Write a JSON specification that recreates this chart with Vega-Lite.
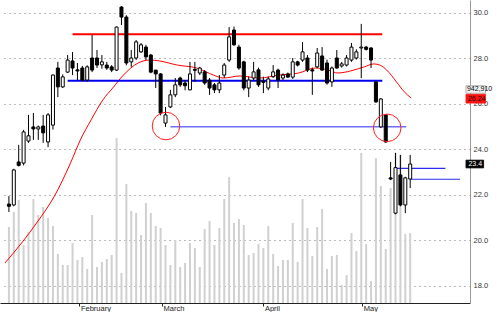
{
  "$schema": "https://vega.github.io/schema/vega-lite/v6.json",
  "width": 470,
  "height": 303,
  "autosize": {"type": "none"},
  "padding": {"left": 0, "top": 0, "right": 30, "bottom": 9},
  "background": "white",
  "config": {"view": {"stroke": null}, "font": "Liberation Sans"},
  "datasets": {
    "candles": [
      {"k":0,"o":21.6,"h":21.95,"l":21.25,"c":21.5,"vol":760000},
      {"k":1,"o":21.56,"h":23.15,"l":21.5,"c":23.1,"vol":910000},
      {"k":2,"o":23.45,"h":24.2,"l":23.25,"c":23.3,"vol":1030000},
      {"k":3,"o":23.4,"h":24.86,"l":23.3,"c":24.77,"vol":580000},
      {"k":4,"o":24.37,"h":25.52,"l":24.29,"c":24.6,"vol":710000},
      {"k":5,"o":24.99,"h":25.6,"l":24.42,"c":24.9,"vol":1040000},
      {"k":6,"o":24.9,"h":25.05,"l":24.42,"c":24.99,"vol":880000},
      {"k":7,"o":25.03,"h":25.52,"l":24.29,"c":24.73,"vol":960000},
      {"k":8,"o":24.33,"h":25.6,"l":24.1,"c":25.52,"vol":850000},
      {"k":9,"o":25.07,"h":27.3,"l":24.87,"c":27.27,"vol":770000},
      {"k":10,"o":27.58,"h":27.85,"l":26.3,"c":26.75,"vol":490000},
      {"k":11,"o":26.75,"h":27.3,"l":26.7,"c":27.19,"vol":380000},
      {"k":12,"o":27.4,"h":28.15,"l":27.36,"c":27.93,"vol":380000},
      {"k":13,"o":27.89,"h":28.28,"l":27.27,"c":27.58,"vol":600000},
      {"k":14,"o":27.5,"h":27.8,"l":27.05,"c":27.45,"vol":430000},
      {"k":15,"o":27.58,"h":27.67,"l":27.0,"c":27.05,"vol":460000},
      {"k":16,"o":27.05,"h":27.7,"l":26.98,"c":27.63,"vol":340000},
      {"k":17,"o":28.02,"h":29.03,"l":27.4,"c":27.49,"vol":880000},
      {"k":18,"o":28.02,"h":28.37,"l":27.58,"c":27.71,"vol":360000},
      {"k":19,"o":27.72,"h":28.15,"l":27.55,"c":27.85,"vol":410000},
      {"k":20,"o":27.71,"h":27.85,"l":27.5,"c":27.58,"vol":440000},
      {"k":21,"o":27.63,"h":27.71,"l":27.4,"c":27.49,"vol":480000},
      {"k":22,"o":27.49,"h":29.4,"l":27.45,"c":29.38,"vol":1650000},
      {"k":23,"o":30.26,"h":30.3,"l":29.47,"c":29.82,"vol":300000},
      {"k":24,"o":29.82,"h":29.9,"l":27.7,"c":27.8,"vol":1190000},
      {"k":25,"o":27.85,"h":28.37,"l":27.63,"c":28.02,"vol":920000},
      {"k":26,"o":28.02,"h":28.81,"l":27.93,"c":28.73,"vol":900000},
      {"k":27,"o":28.29,"h":28.68,"l":28.24,"c":28.6,"vol":680000},
      {"k":28,"o":28.5,"h":28.6,"l":27.93,"c":28.07,"vol":1000000},
      {"k":29,"o":28.15,"h":28.2,"l":27.35,"c":27.4,"vol":900000},
      {"k":30,"o":27.49,"h":27.49,"l":26.7,"c":27.32,"vol":770000},
      {"k":31,"o":27.32,"h":27.36,"l":25.5,"c":25.6,"vol":750000},
      {"k":32,"o":25.16,"h":25.87,"l":24.99,"c":25.52,"vol":580000},
      {"k":33,"o":25.87,"h":26.62,"l":25.82,"c":26.4,"vol":380000},
      {"k":34,"o":26.4,"h":27.14,"l":26.3,"c":26.84,"vol":630000},
      {"k":35,"o":27.14,"h":27.2,"l":26.75,"c":26.84,"vol":360000},
      {"k":36,"o":26.92,"h":27.05,"l":26.6,"c":26.8,"vol":400000},
      {"k":37,"o":26.62,"h":27.85,"l":26.6,"c":27.32,"vol":600000},
      {"k":38,"o":27.52,"h":27.85,"l":26.97,"c":27.48,"vol":550000},
      {"k":39,"o":27.36,"h":27.63,"l":27.27,"c":27.58,"vol":360000},
      {"k":40,"o":27.41,"h":27.49,"l":26.84,"c":26.92,"vol":740000},
      {"k":41,"o":27.05,"h":27.14,"l":26.4,"c":26.7,"vol":820000},
      {"k":42,"o":26.84,"h":26.92,"l":26.48,"c":26.62,"vol":580000},
      {"k":43,"o":26.62,"h":27.27,"l":26.48,"c":26.92,"vol":750000},
      {"k":44,"o":27.27,"h":27.8,"l":27.14,"c":27.71,"vol":1040000},
      {"k":45,"o":27.93,"h":29.38,"l":27.85,"c":28.95,"vol":1260000},
      {"k":46,"o":29.25,"h":29.4,"l":28.55,"c":28.6,"vol":800000},
      {"k":47,"o":28.5,"h":28.6,"l":27.5,"c":27.58,"vol":840000},
      {"k":48,"o":27.85,"h":27.9,"l":26.6,"c":26.7,"vol":780000},
      {"k":49,"o":26.7,"h":27.2,"l":26.3,"c":27.05,"vol":480000},
      {"k":50,"o":27.14,"h":27.85,"l":27.05,"c":27.41,"vol":500000},
      {"k":51,"o":27.5,"h":27.6,"l":26.75,"c":26.84,"vol":590000},
      {"k":52,"o":27.0,"h":27.2,"l":26.48,"c":26.95,"vol":550000},
      {"k":53,"o":26.7,"h":27.2,"l":26.6,"c":27.1,"vol":770000},
      {"k":54,"o":27.2,"h":27.71,"l":27.14,"c":27.41,"vol":490000},
      {"k":55,"o":27.49,"h":27.55,"l":26.7,"c":27.05,"vol":370000},
      {"k":56,"o":27.14,"h":27.35,"l":27.05,"c":27.27,"vol":430000},
      {"k":57,"o":27.32,"h":27.38,"l":27.15,"c":27.18,"vol":430000},
      {"k":58,"o":27.18,"h":28.02,"l":27.1,"c":27.85,"vol":800000},
      {"k":59,"o":27.85,"h":27.9,"l":27.65,"c":27.71,"vol":410000},
      {"k":60,"o":27.93,"h":28.72,"l":27.85,"c":28.29,"vol":1040000},
      {"k":61,"o":28.02,"h":28.15,"l":27.4,"c":27.49,"vol":750000},
      {"k":62,"o":27.5,"h":27.6,"l":26.4,"c":27.45,"vol":470000},
      {"k":63,"o":27.63,"h":28.46,"l":27.58,"c":28.24,"vol":760000},
      {"k":64,"o":28.11,"h":28.5,"l":27.45,"c":27.49,"vol":940000},
      {"k":65,"o":27.8,"h":27.95,"l":26.85,"c":26.92,"vol":340000},
      {"k":66,"o":26.97,"h":27.65,"l":26.75,"c":27.58,"vol":470000},
      {"k":67,"o":28.02,"h":28.37,"l":27.55,"c":27.58,"vol":480000},
      {"k":68,"o":27.67,"h":27.85,"l":27.6,"c":27.76,"vol":180000},
      {"k":69,"o":27.71,"h":28.15,"l":27.65,"c":28.02,"vol":280000},
      {"k":70,"o":27.93,"h":28.68,"l":27.85,"c":28.5,"vol":700000},
      {"k":71,"o":28.02,"h":28.4,"l":27.95,"c":28.29,"vol":520000},
      {"k":72,"o":28.46,"h":29.52,"l":27.14,"c":28.5,"vol":1500000},
      {"k":73,"o":28.5,"h":28.55,"l":28.35,"c":28.4,"vol":590000},
      {"k":74,"o":28.46,"h":28.5,"l":27.58,"c":27.93,"vol":220000},
      {"k":75,"o":26.97,"h":27.0,"l":26.05,"c":26.09,"vol":1450000},
      {"k":76,"o":24.99,"h":26.26,"l":24.95,"c":26.22,"vol":1170000},
      {"k":77,"o":25.52,"h":25.55,"l":24.29,"c":24.33,"vol":540000},
      {"k":78,"o":22.75,"h":23.45,"l":22.65,"c":22.7,"vol":1150000},
      {"k":79,"o":21.2,"h":23.85,"l":21.15,"c":23.2,"vol":1500000},
      {"k":80,"o":22.88,"h":23.76,"l":21.5,"c":21.56,"vol":1480000},
      {"k":81,"o":21.56,"h":22.8,"l":21.2,"c":22.75,"vol":690000},
      {"k":82,"o":22.7,"h":23.76,"l":22.3,"c":23.36,"vol":700000}
    ],
    "ma": [
      {"k":-0.8,"v":19.01},{"k":2.6,"v":19.89},{"k":5.8,"v":20.81},{"k":9.2,"v":21.91},
      {"k":12.6,"v":23.41},{"k":14.6,"v":24.42},{"k":16.8,"v":25.3},{"k":19.2,"v":26.18},
      {"k":21.2,"v":26.7},{"k":23.4,"v":27.27},{"k":26.4,"v":27.8},{"k":28.8,"v":27.93},
      {"k":30.8,"v":27.89},{"k":34.4,"v":27.71},{"k":38.4,"v":27.58},{"k":41.8,"v":27.27},
      {"k":43.8,"v":27.14},{"k":47.2,"v":27.23},{"k":51.2,"v":27.14},{"k":55.2,"v":27.27},
      {"k":59.2,"v":27.36},{"k":62.6,"v":27.58},{"k":65.2,"v":27.49},{"k":67.2,"v":27.36},
      {"k":69.8,"v":27.45},{"k":72.6,"v":27.63},{"k":74.6,"v":27.76},{"k":75.8,"v":27.71},
      {"k":77.2,"v":27.49},{"k":79.2,"v":26.97},{"k":80.8,"v":26.53},{"k":82.2,"v":26.26}
    ],
    "lines": [
      {"name":"res","k":13,"k2":76.3,"v":29.06},
      {"name":"sup","k":12,"k2":76.3,"v":27.02},
      {"name":"low","k":33,"k2":81.2,"v":25.0},
      {"name":"s1","k":79,"k2":89.2,"v":23.17},
      {"name":"s2","k":82.2,"k2":92.2,"v":22.69}
    ],
    "circles": [{"k":32.1,"v":25.03},{"k":77.3,"v":24.95}],
    "boxes": [
      {"name":"vol","k":93.4,"k2":97.4,"v":26.8,"v2":26.47},
      {"name":"ma","k":93.4,"k2":97.4,"v":26.42,"v2":26.04},
      {"name":"px","k":93.4,"k2":97.0,"v":23.53,"v2":23.19}
    ],
    "tags": [
      {"name":"vol","k":93.6,"v":26.64,"label":"942,910"},
      {"name":"ma","k":93.8,"v":26.23,"label":"26.24"},
      {"name":"px","k":93.9,"v":23.36,"label":"23.4"}
    ]
  },
  "encoding": {
    "x": {
      "field": "k", "type": "quantitative", "title": null,
      "scale": {"domain": [-0.8, 93.2], "nice": false, "zero": false},
      "axis": {
        "values": [14.4, 31.3, 52, 72.2],
        "labelExpr": "datum.value < 20 ? 'February' : datum.value < 40 ? 'March' : datum.value < 60 ? 'April' : 'May'",
        "grid": false, "domainColor": "#222", "tickColor": "#222", "tickSize": 3,
        "labelAlign": "left", "labelBaseline": "top", "labelPadding": -2, "labelOffset": 1,
        "labelFontSize": 7.5, "labelColor": "#222", "title": null
      }
    }
  },
  "layer": [
    {
      "data": {"name": "candles"},
      "mark": {"type": "bar", "size": 2, "color": "#d0d0d0"},
      "encoding": {
        "y": {"field": "vol", "type": "quantitative", "title": null, "scale": {"domain": [0, 3030000], "nice": false}, "axis": null}
      }
    },
    {
      "layer": [
        {
          "data": {"name": "ma"},
          "mark": {"type": "line", "color": "#ff0000", "strokeWidth": 1, "interpolate": "monotone"},
          "encoding": {
            "y": {
              "field": "v", "type": "quantitative", "title": null,
              "scale": {"domain": [17.25, 30.57], "nice": false, "zero": false},
              "axis": {
                "orient": "right", "values": [18, 20, 22, 24, 26, 28, 30], "format": ".1f",
                "grid": true, "gridDash": [1, 4], "gridColor": "#777", "gridWidth": 1,
                "domainColor": "#999", "ticks": false, "labelPadding": 3,
                "labelFontSize": 7.5, "labelColor": "#333", "labelBaseline": "middle", "title": null
              }
            }
          }
        },
        {
          "data": {"name": "lines"},
          "transform": [{"filter": "datum.name == 'res'"}],
          "mark": {"type": "rule", "color": "#ff0000", "strokeWidth": 2},
          "encoding": {"x2": {"field": "k2"}, "y": {"field": "v", "type": "quantitative", "title": null}}
        },
        {
          "data": {"name": "lines"},
          "transform": [{"filter": "datum.name == 'sup'"}],
          "mark": {"type": "rule", "color": "#0000ee", "strokeWidth": 2},
          "encoding": {"x2": {"field": "k2"}, "y": {"field": "v", "type": "quantitative", "title": null}}
        },
        {
          "data": {"name": "lines"},
          "transform": [{"filter": "datum.name == 'low'"}],
          "mark": {"type": "rule", "color": "#6f6ff5", "strokeWidth": 1.5},
          "encoding": {"x2": {"field": "k2"}, "y": {"field": "v", "type": "quantitative", "title": null}}
        },
        {
          "data": {"name": "lines"},
          "transform": [{"filter": "datum.name == 's1' || datum.name == 's2'"}],
          "mark": {"type": "rule", "color": "#2a2af0", "strokeWidth": 1.2},
          "encoding": {"x2": {"field": "k2"}, "y": {"field": "v", "type": "quantitative", "title": null}}
        },
        {
          "data": {"name": "candles"},
          "mark": {"type": "rule", "color": "#000000", "strokeWidth": 1},
          "encoding": {
            "y": {"field": "l", "type": "quantitative", "title": null},
            "y2": {"field": "h"}
          }
        },
        {
          "data": {"name": "candles"},
          "mark": {"type": "bar", "size": 3, "stroke": "#000000", "strokeWidth": 1},
          "encoding": {
            "y": {"field": "o", "type": "quantitative", "title": null},
            "y2": {"field": "c"},
            "fill": {"condition": {"test": "datum.c >= datum.o", "value": "#ffffff"}, "value": "#000000"}
          }
        },
        {
          "data": {"name": "circles"},
          "mark": {"type": "point", "shape": "circle", "filled": false, "size": 760, "stroke": "#ff2020", "strokeWidth": 1, "opacity": 1},
          "encoding": {"y": {"field": "v", "type": "quantitative", "title": null}}
        },
        {
          "data": {"name": "boxes"},
          "mark": {"type": "rect", "strokeWidth": 0.8},
          "encoding": {
            "x2": {"field": "k2"},
            "y": {"field": "v", "type": "quantitative", "title": null},
            "y2": {"field": "v2"},
            "fill": {"field": "name", "type": "nominal", "scale": {"domain": ["vol", "ma", "px"], "range": ["#f4f4f4", "#ff1010", "#000000"]}, "legend": null},
            "stroke": {"field": "name", "type": "nominal", "scale": {"domain": ["vol", "ma", "px"], "range": ["#9a9a9a", "#ff1010", "#000000"]}, "legend": null}
          }
        },
        {
          "data": {"name": "tags"},
          "mark": {"type": "text", "align": "left", "baseline": "middle", "fontSize": 7, "font": "Liberation Sans"},
          "encoding": {
            "y": {"field": "v", "type": "quantitative", "title": null},
            "text": {"field": "label"},
            "color": {"field": "name", "type": "nominal", "scale": {"domain": ["vol", "ma", "px"], "range": ["#000000", "#111111", "#ffffff"]}, "legend": null}
          }
        }
      ]
    }
  ],
  "resolve": {"scale": {"y": "independent"}}
}
